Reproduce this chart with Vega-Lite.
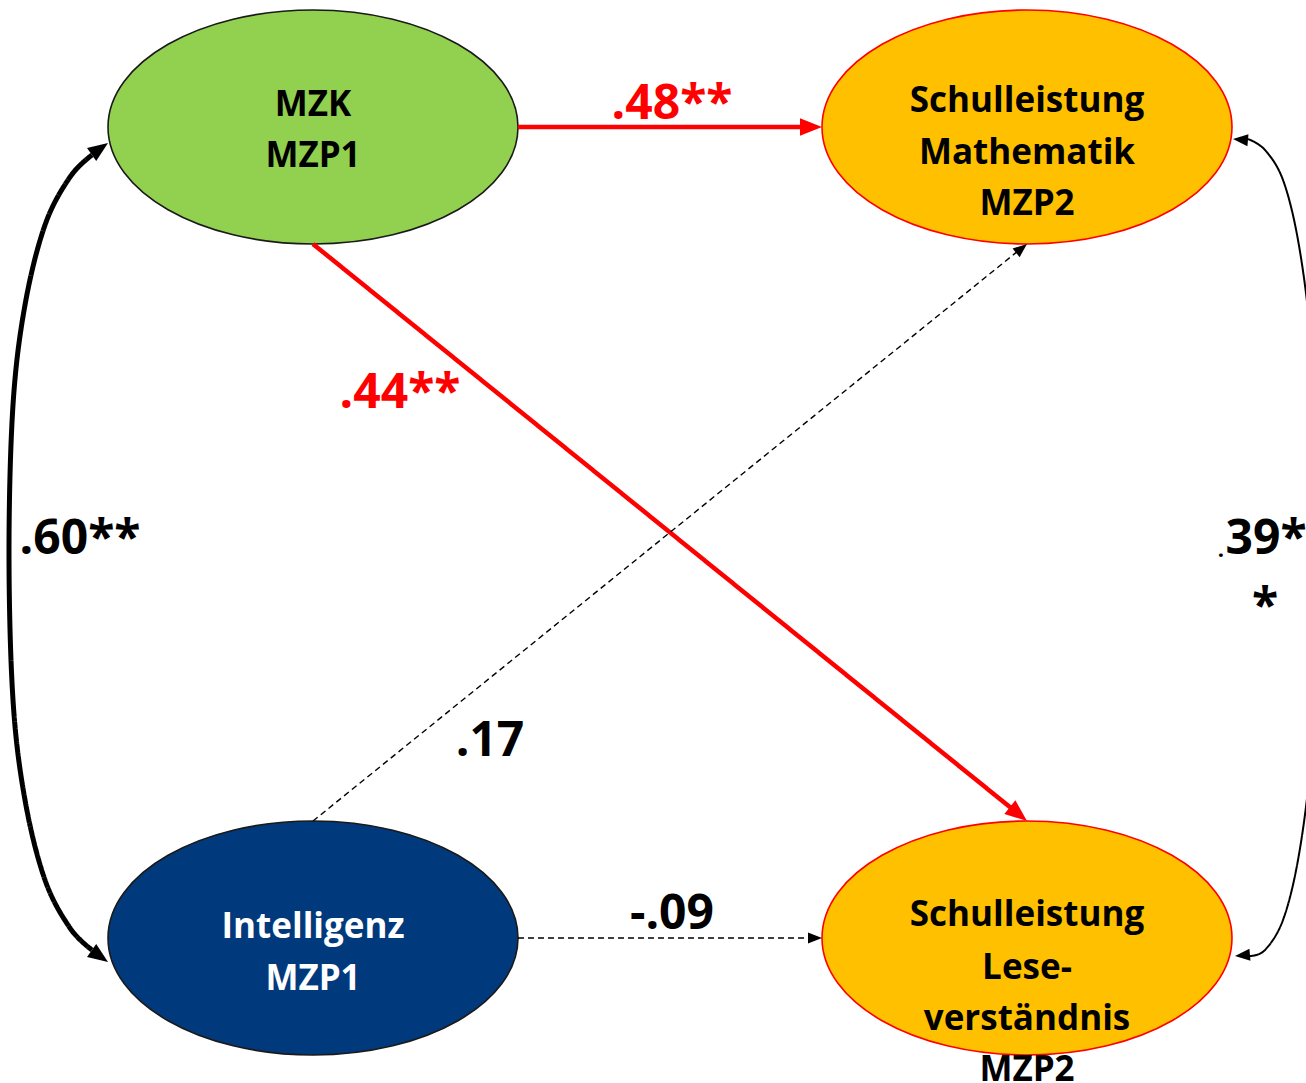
{
  "$schema": "https://vega.github.io/schema/vega-lite/v6.json",
  "width": 1306,
  "height": 1083,
  "padding": 0,
  "autosize": {"type": "fit", "contains": "padding"},
  "background": "white",
  "config": {"view": {"stroke": null}},
  "datasets": {
    "nodes": [
      {"node": "MZK MZP1", "x": 313, "y": 127, "role": "predictor"},
      {"node": "Intelligenz MZP1", "x": 313, "y": 938, "role": "predictor"},
      {"node": "Schulleistung Mathematik MZP2", "x": 1027, "y": 127, "role": "outcome"},
      {"node": "Schulleistung Leseverständnis MZP2", "x": 1027, "y": 938, "role": "outcome"}
    ],
    "paths": [
      {"edge": "MZK->Mathe", "type": "sig", "seq": 0, "x": 518, "y": 127},
      {"edge": "MZK->Mathe", "type": "sig", "seq": 1, "x": 808, "y": 127},
      {"edge": "MZK->Lese", "type": "sig", "seq": 0, "x": 313, "y": 244},
      {"edge": "MZK->Lese", "type": "sig", "seq": 1, "x": 1016, "y": 812},
      {"edge": "Int->Mathe", "type": "ns", "seq": 0, "x": 313, "y": 821},
      {"edge": "Int->Mathe", "type": "ns", "seq": 1, "x": 1018, "y": 251},
      {"edge": "Int->Lese", "type": "ns", "seq": 0, "x": 518, "y": 938},
      {"edge": "Int->Lese", "type": "ns", "seq": 1, "x": 812, "y": 938},
      {"edge": "MZK<->Int", "type": "cov-sig", "seq": 0, "x": 92, "y": 155},
      {"edge": "MZK<->Int", "type": "cov-sig", "seq": 1, "x": 70, "y": 177},
      {"edge": "MZK<->Int", "type": "cov-sig", "seq": 2, "x": 45, "y": 225},
      {"edge": "MZK<->Int", "type": "cov-sig", "seq": 3, "x": 25, "y": 305},
      {"edge": "MZK<->Int", "type": "cov-sig", "seq": 4, "x": 13, "y": 405},
      {"edge": "MZK<->Int", "type": "cov-sig", "seq": 5, "x": 9, "y": 552},
      {"edge": "MZK<->Int", "type": "cov-sig", "seq": 6, "x": 13, "y": 700},
      {"edge": "MZK<->Int", "type": "cov-sig", "seq": 7, "x": 25, "y": 800},
      {"edge": "MZK<->Int", "type": "cov-sig", "seq": 8, "x": 45, "y": 880},
      {"edge": "MZK<->Int", "type": "cov-sig", "seq": 9, "x": 70, "y": 928},
      {"edge": "MZK<->Int", "type": "cov-sig", "seq": 10, "x": 92, "y": 950},
      {"edge": "Mathe<->Lese", "type": "cov", "seq": 0, "x": 1248, "y": 139},
      {"edge": "Mathe<->Lese", "type": "cov", "seq": 1, "x": 1265, "y": 150},
      {"edge": "Mathe<->Lese", "type": "cov", "seq": 2, "x": 1283, "y": 180},
      {"edge": "Mathe<->Lese", "type": "cov", "seq": 3, "x": 1298, "y": 240},
      {"edge": "Mathe<->Lese", "type": "cov", "seq": 4, "x": 1310, "y": 330},
      {"edge": "Mathe<->Lese", "type": "cov", "seq": 5, "x": 1318, "y": 450},
      {"edge": "Mathe<->Lese", "type": "cov", "seq": 6, "x": 1320, "y": 548},
      {"edge": "Mathe<->Lese", "type": "cov", "seq": 7, "x": 1318, "y": 650},
      {"edge": "Mathe<->Lese", "type": "cov", "seq": 8, "x": 1310, "y": 770},
      {"edge": "Mathe<->Lese", "type": "cov", "seq": 9, "x": 1298, "y": 860},
      {"edge": "Mathe<->Lese", "type": "cov", "seq": 10, "x": 1283, "y": 920},
      {"edge": "Mathe<->Lese", "type": "cov", "seq": 11, "x": 1265, "y": 950},
      {"edge": "Mathe<->Lese", "type": "cov", "seq": 12, "x": 1250, "y": 956}
    ],
    "heads": [
      {"edge": "MZK->Mathe", "type": "sig", "x": 822, "y": 127, "angle": 0},
      {"edge": "MZK->Lese", "type": "sig", "x": 1027, "y": 821, "angle": 38.9},
      {"edge": "Int->Mathe", "type": "ns", "x": 1027, "y": 244, "angle": -38.9},
      {"edge": "Int->Lese", "type": "ns", "x": 822, "y": 938, "angle": 0},
      {"edge": "MZK<->Int", "type": "cov-sig", "x": 108, "y": 143, "angle": -35},
      {"edge": "MZK<->Int", "type": "cov-sig", "x": 108, "y": 962, "angle": 35},
      {"edge": "Mathe<->Lese", "type": "cov", "x": 1233, "y": 139, "angle": 185},
      {"edge": "Mathe<->Lese", "type": "cov", "x": 1235, "y": 956, "angle": 175}
    ],
    "labels": [
      {"label": "MZK", "x": 313, "y": 105, "kind": "node-dark"},
      {"label": "MZP1", "x": 313, "y": 156, "kind": "node-dark"},
      {"label": "Schulleistung", "x": 1027, "y": 101, "kind": "node-dark"},
      {"label": "Mathematik", "x": 1027, "y": 153, "kind": "node-dark"},
      {"label": "MZP2", "x": 1027, "y": 204, "kind": "node-dark"},
      {"label": "Intelligenz", "x": 313, "y": 927, "kind": "node-light"},
      {"label": "MZP1", "x": 313, "y": 979, "kind": "node-light"},
      {"label": "Schulleistung", "x": 1027, "y": 915, "kind": "node-dark"},
      {"label": "Lese-", "x": 1027, "y": 968, "kind": "node-dark"},
      {"label": "verständnis", "x": 1027, "y": 1019, "kind": "node-dark"},
      {"label": "MZP2", "x": 1027, "y": 1070, "kind": "node-dark"},
      {"label": ".48**", "x": 672, "y": 105, "kind": "coef-sig"},
      {"label": ".44**", "x": 400, "y": 394, "kind": "coef-sig"},
      {"label": ".60**", "x": 80, "y": 540, "kind": "coef"},
      {"label": ".", "x": 1221, "y": 550, "kind": "dot"},
      {"label": "39*", "x": 1266, "y": 540, "kind": "coef"},
      {"label": "*", "x": 1265, "y": 608, "kind": "coef"},
      {"label": ".17", "x": 490, "y": 742, "kind": "coef"},
      {"label": "-.09", "x": 672, "y": 915, "kind": "coef"}
    ]
  },
  "encoding": {
    "x": {"field": "x", "type": "quantitative", "axis": null, "scale": {"domain": [0, 1306], "nice": false, "zero": false}},
    "y": {"field": "y", "type": "quantitative", "axis": null, "scale": {"domain": [0, 1083], "nice": false, "zero": false, "reverse": true}}
  },
  "layer": [
    {
      "data": {"name": "nodes"},
      "mark": {
        "type": "point",
        "shape": "M-1,0C-1,-0.3152,-0.5523,-0.5707,0,-0.5707C0.5523,-0.5707,1,-0.3152,1,0C1,0.3152,0.5523,0.5707,0,0.5707C-0.5523,0.5707,-1,0.3152,-1,0Z",
        "filled": true,
        "size": 168100,
        "strokeWidth": 1.6,
        "opacity": 1,
        "fillOpacity": 1,
        "strokeOpacity": 1
      },
      "encoding": {
        "fill": {"field": "node", "type": "nominal", "legend": null,
          "scale": {"domain": ["MZK MZP1", "Intelligenz MZP1", "Schulleistung Mathematik MZP2", "Schulleistung Leseverständnis MZP2"],
                    "range": ["#92D050", "#003A7D", "#FFC000", "#FFC000"]}},
        "stroke": {"field": "role", "type": "nominal", "legend": null,
          "scale": {"domain": ["predictor", "outcome"], "range": ["#1a1a1a", "#FF0000"]}}
      }
    },
    {
      "data": {"name": "paths"},
      "mark": {"type": "line", "interpolate": "cardinal", "clip": true, "strokeCap": "butt"},
      "encoding": {
        "detail": {"field": "edge", "type": "nominal"},
        "order": {"field": "seq", "type": "quantitative"},
        "stroke": {"field": "type", "type": "nominal", "legend": null,
          "scale": {"domain": ["sig", "ns", "cov-sig", "cov"], "range": ["#FF0000", "#000000", "#000000", "#000000"]}},
        "strokeWidth": {"field": "type", "type": "nominal", "legend": null,
          "scale": {"type": "ordinal", "domain": ["sig", "ns", "cov-sig", "cov"], "range": [4.5, 1.4, 5, 2]}},
        "strokeDash": {"field": "type", "type": "nominal", "legend": null,
          "scale": {"domain": ["sig", "ns", "cov-sig", "cov"], "range": [[1, 0], [6, 4], [1, 0], [1, 0]]}}
      }
    },
    {
      "data": {"name": "heads"},
      "mark": {"type": "point", "shape": "M0,0L-2,-0.8L-2,0.8Z", "filled": true, "opacity": 1, "strokeWidth": 0},
      "encoding": {
        "angle": {"field": "angle", "type": "quantitative", "scale": null},
        "fill": {"field": "type", "type": "nominal", "legend": null,
          "scale": {"domain": ["sig", "ns", "cov-sig", "cov"], "range": ["#FF0000", "#000000", "#000000", "#000000"]}},
        "size": {"field": "type", "type": "nominal", "legend": null,
          "scale": {"type": "ordinal", "domain": ["sig", "ns", "cov-sig", "cov"], "range": [484, 196, 400, 225]}}
      }
    },
    {
      "data": {"name": "labels"},
      "mark": {"type": "text", "font": "Open Sans", "fontWeight": "bold", "align": "center", "baseline": "middle", "clip": true},
      "encoding": {
        "text": {"field": "label", "type": "nominal"},
        "color": {"field": "kind", "type": "nominal", "legend": null,
          "scale": {"domain": ["node-dark", "node-light", "coef-sig", "coef", "dot"], "range": ["#000000", "#FFFFFF", "#FF0000", "#000000", "#000000"]}},
        "size": {"field": "kind", "type": "nominal", "legend": null,
          "scale": {"type": "ordinal", "domain": ["node-dark", "node-light", "coef-sig", "coef", "dot"], "range": [35, 35, 48, 48, 22]}}
      }
    }
  ],
  "resolve": {"scale": {"fill": "independent", "stroke": "independent", "color": "independent", "size": "independent", "strokeWidth": "independent", "strokeDash": "independent"}}
}
